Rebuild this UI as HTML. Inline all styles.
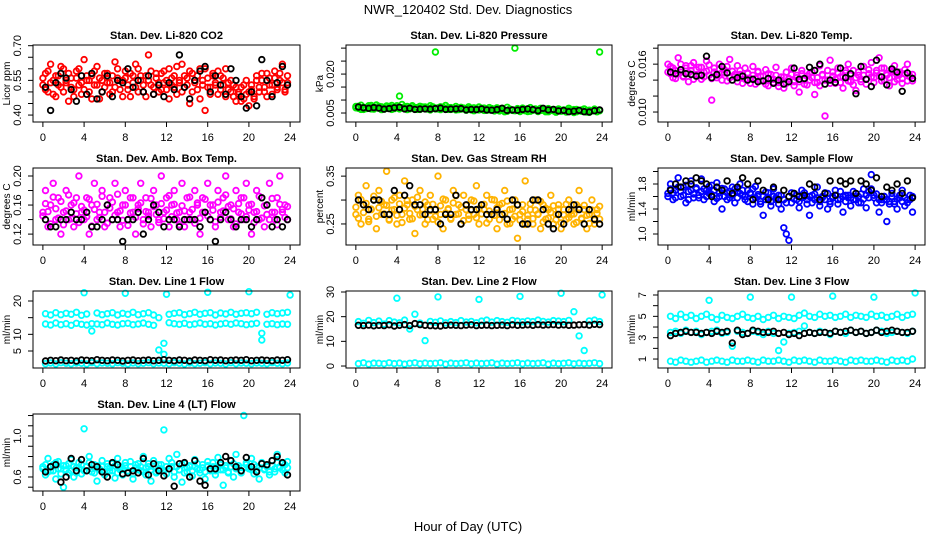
<!DOCTYPE html>
<html><head><meta charset="utf-8"><title>NWR_120402 Std. Dev. Diagnostics</title>
<style>
html,body{margin:0;padding:0;background:#fff;}
svg{display:block;font-family:"Liberation Sans",sans-serif;}
</style></head>
<body>
<svg id="chart" width="936" height="540" viewBox="0 0 936 540" xmlns="http://www.w3.org/2000/svg">
<rect x="0" y="0" width="936" height="540" fill="#fff"/>
<text x="468" y="14" font-size="13" text-anchor="middle">NWR_120402  Std. Dev. Diagnostics</text>
<text x="468" y="531" font-size="13" text-anchor="middle">Hour of Day (UTC)</text>
</svg>
<script>
const hA=[0,.25,.5,.75,1,1.25,1.5,1.75,2,2.25,2.5,2.75,3,3.25,3.5,3.75,4,4.25,4.5,4.75,5,5.25,5.5,5.75,6,6.25,6.5,6.75,7,7.25,7.5,7.75,8,8.25,8.5,8.75,9,9.25,9.5,9.75,10,10.25,10.5,10.75,11,11.25,11.5,11.75,12,12.25,12.5,12.75,13,13.25,13.5,13.75,14,14.25,14.5,14.75,15,15.25,15.5,15.75,16,16.25,16.5,16.75,17,17.25,17.5,17.75,18,18.25,18.5,18.75,19,19.25,19.5,19.75,20,20.25,20.5,20.75,21,21.25,21.5,21.75,22,22.25,22.5,22.75,23,23.25,23.5,23.75];
const hB=[.25,.75,1.25,1.75,2.25,2.75,3.25,3.75,4.25,4.75,5.25,5.75,6.25,6.75,7.25,7.75,8.25,8.75,9.25,9.75,10.25,10.75,11.25,11.75,12.25,12.75,13.25,13.75,14.25,14.75,15.25,15.75,16.25,16.75,17.25,17.75,18.25,18.75,19.25,19.75,20.25,20.75,21.25,21.75,22.25,22.75,23.25,23.75];
const xTicks=[0,4,8,12,16,20,24];
const outHours=[4,8,12,16,20,24];

const co2=[0.53,0.58,0.50,0.62,0.55,0.48,0.57,0.52,0.60,0.54,0.46,0.56,0.51,0.59,0.53,0.49,0.64,0.55,0.50,0.57,0.53,0.61,0.47,0.55,0.52,0.58,0.54,0.50,0.63,0.56,0.51,0.55,0.59,0.53,0.48,0.57,0.52,0.60,0.55,0.50,0.57,0.66,0.53,0.49,0.58,0.54,0.51,0.59,0.55,0.47,0.56,0.52,0.61,0.54,0.50,0.57,0.53,0.45,0.58,0.55,0.51,0.60,0.53,0.42,0.56,0.52,0.58,0.54,0.49,0.57,0.53,0.60,0.51,0.55,0.48,0.52,0.50,0.46,0.53,0.49,0.44,0.51,0.47,0.55,0.50,0.58,0.52,0.48,0.56,0.53,0.59,0.51,0.55,0.62,0.50,0.54];
const co2B=[0.56,0.51,0.59,0.54,0.49,0.57,0.53,0.61,0.50,0.55,0.58,0.52,0.48,0.56,0.60,0.54,0.51,0.57,0.55,0.47,0.59,0.53,0.56,0.50,0.58,0.54,0.49,0.57,0.52,0.60,0.55,0.48,0.56,0.51,0.58,0.54,0.62,0.50,0.57,0.53,0.48,0.55,0.59,0.52,0.56,0.50,0.58,0.54,0.51,0.60,0.53,0.57,0.49,0.55,0.62,0.52,0.56,0.59,0.50,0.54,0.57,0.47,0.55,0.60,0.52,0.49,0.57,0.53,0.59,0.51,0.56,0.48,0.54,0.50,0.53,0.46,0.49,0.52,0.47,0.55,0.50,0.53,0.48,0.57,0.52,0.55,0.50,0.58,0.53,0.49,0.56,0.52,0.58,0.54,0.51,0.57];
const co2Blk=[0.52,0.42,0.54,0.58,0.56,0.51,0.46,0.57,0.49,0.58,0.47,0.50,0.57,0.48,0.55,0.54,0.60,0.52,0.55,0.50,0.57,0.49,0.53,0.48,0.54,0.51,0.66,0.52,0.47,0.55,0.59,0.61,0.50,0.57,0.53,0.49,0.60,0.55,0.48,0.43,0.50,0.44,0.64,0.55,0.48,0.54,0.61,0.53];
const pres=[0.0075,0.0068,0.0080,0.0064,0.0071,0.0078,0.0066,0.0073,0.0081,0.0069,0.0074,0.0065,0.0077,0.0070,0.0079,0.0067,0.0072,0.0115,0.0083,0.0068,0.0075,0.0066,0.0078,0.0071,0.0064,0.0076,0.0069,0.0073,0.0065,0.0078,0.0070,0.0285,0.0066,0.0074,0.0068,0.0079,0.0064,0.0071,0.0067,0.0075,0.0063,0.0072,0.0069,0.0066,0.0074,0.0062,0.0070,0.0067,0.0073,0.0064,0.0069,0.0061,0.0071,0.0066,0.0058,0.0070,0.0063,0.0068,0.0055,0.0072,0.0064,0.0060,0.0300,0.0067,0.0059,0.0069,0.0063,0.0056,0.0071,0.0062,0.0066,0.0058,0.0068,0.0061,0.0055,0.0067,0.0060,0.0064,0.0053,0.0066,0.0059,0.0062,0.0056,0.0068,0.0058,0.0052,0.0064,0.0060,0.0057,0.0066,0.0054,0.0061,0.0058,0.0065,0.0056,0.0285];
const presB=[0.0070,0.0076,0.0064,0.0072,0.0067,0.0074,0.0079,0.0065,0.0070,0.0076,0.0063,0.0071,0.0068,0.0075,0.0064,0.0072,0.0078,0.0066,0.0070,0.0074,0.0063,0.0069,0.0075,0.0066,0.0071,0.0064,0.0073,0.0067,0.0070,0.0062,0.0074,0.0066,0.0070,0.0063,0.0072,0.0067,0.0071,0.0064,0.0069,0.0062,0.0070,0.0065,0.0068,0.0061,0.0067,0.0064,0.0059,0.0066,0.0062,0.0068,0.0060,0.0065,0.0062,0.0067,0.0060,0.0064,0.0058,0.0066,0.0061,0.0057,0.0065,0.0062,0.0059,0.0064,0.0056,0.0062,0.0059,0.0066,0.0057,0.0061,0.0063,0.0056,0.0060,0.0064,0.0058,0.0055,0.0062,0.0059,0.0056,0.0063,0.0057,0.0060,0.0054,0.0061,0.0058,0.0063,0.0055,0.0059,0.0062,0.0056,0.0060,0.0053,0.0058,0.0061,0.0055,0.0059];
const presBlk=[0.0073,0.0070,0.0068,0.0071,0.0069,0.0065,0.0067,0.0070,0.0072,0.0066,0.0068,0.0064,0.0065,0.0066,0.0065,0.0067,0.0069,0.0064,0.0065,0.0066,0.0067,0.0062,0.0064,0.0063,0.0066,0.0062,0.0061,0.0063,0.0068,0.0060,0.0062,0.0061,0.0064,0.0066,0.0063,0.0059,0.0068,0.0062,0.0064,0.0058,0.0060,0.0055,0.0057,0.0060,0.0055,0.0054,0.0059,0.0062];
const tempLi=[0.0160,0.0148,0.0155,0.0142,0.0168,0.0150,0.0145,0.0158,0.0138,0.0152,0.0162,0.0147,0.0156,0.0141,0.0150,0.0164,0.0146,0.0115,0.0155,0.0143,0.0160,0.0149,0.0153,0.0139,0.0166,0.0151,0.0144,0.0158,0.0147,0.0136,0.0155,0.0148,0.0142,0.0157,0.0135,0.0150,0.0145,0.0139,0.0153,0.0133,0.0147,0.0141,0.0156,0.0137,0.0144,0.0130,0.0150,0.0142,0.0155,0.0138,0.0146,0.0125,0.0152,0.0140,0.0134,0.0148,0.0143,0.0122,0.0137,0.0158,0.0146,0.0095,0.0140,0.0165,0.0150,0.0136,0.0155,0.0144,0.0130,0.0149,0.0160,0.0138,0.0152,0.0127,0.0146,0.0141,0.0157,0.0135,0.0148,0.0162,0.0143,0.0152,0.0168,0.0139,0.0155,0.0146,0.0133,0.0150,0.0158,0.0141,0.0147,0.0136,0.0153,0.0160,0.0144,0.0139];
const tempLiB=[0.0150,0.0157,0.0143,0.0152,0.0148,0.0160,0.0144,0.0155,0.0149,0.0158,0.0141,0.0153,0.0147,0.0156,0.0144,0.0151,0.0159,0.0142,0.0150,0.0146,0.0154,0.0140,0.0149,0.0157,0.0143,0.0151,0.0147,0.0138,0.0152,0.0145,0.0141,0.0149,0.0136,0.0146,0.0142,0.0151,0.0139,0.0145,0.0135,0.0148,0.0141,0.0137,0.0146,0.0132,0.0140,0.0144,0.0136,0.0141,0.0147,0.0133,0.0143,0.0138,0.0148,0.0135,0.0145,0.0140,0.0150,0.0137,0.0143,0.0133,0.0147,0.0140,0.0152,0.0136,0.0145,0.0141,0.0149,0.0137,0.0144,0.0152,0.0139,0.0146,0.0134,0.0143,0.0150,0.0138,0.0146,0.0141,0.0153,0.0144,0.0137,0.0149,0.0145,0.0155,0.0140,0.0148,0.0143,0.0152,0.0138,0.0146,0.0150,0.0142,0.0148,0.0139,0.0145,0.0147];
const tempLiBlk=[0.0150,0.0148,0.0153,0.0148,0.0147,0.0145,0.0146,0.0170,0.0143,0.0147,0.0157,0.0149,0.0140,0.0143,0.0145,0.0140,0.0141,0.0138,0.0139,0.0142,0.0136,0.0140,0.0135,0.0138,0.0155,0.0141,0.0142,0.0156,0.0152,0.0160,0.0135,0.0140,0.0137,0.0155,0.0143,0.0148,0.0123,0.0157,0.0141,0.0132,0.0165,0.0144,0.0134,0.0154,0.0150,0.0126,0.0149,0.0142];
const boxT=[0.15,0.18,0.13,0.16,0.19,0.14,0.17,0.12,0.15,0.18,0.14,0.16,0.13,0.17,0.20,0.15,0.14,0.17,0.12,0.16,0.19,0.14,0.15,0.18,0.13,0.16,0.17,0.14,0.19,0.15,0.13,0.16,0.18,0.14,0.17,0.15,0.12,0.16,0.19,0.14,0.17,0.15,0.13,0.18,0.16,0.14,0.20,0.15,0.17,0.13,0.16,0.18,0.14,0.15,0.19,0.13,0.17,0.15,0.14,0.18,0.16,0.12,0.17,0.15,0.19,0.14,0.16,0.13,0.18,0.15,0.17,0.20,0.14,0.16,0.13,0.18,0.15,0.17,0.14,0.19,0.16,0.12,0.15,0.18,0.14,0.17,0.13,0.16,0.19,0.15,0.14,0.17,0.20,0.15,0.16,0.14];
const boxTB=[0.145,0.162,0.151,0.134,0.171,0.155,0.142,0.165,0.133,0.152,0.174,0.141,0.163,0.148,0.136,0.158,0.153,0.144,0.168,0.131,0.154,0.161,0.143,0.172,0.150,0.135,0.156,0.164,0.146,0.175,0.152,0.139,0.160,0.132,0.149,0.170,0.143,0.155,0.163,0.134,0.151,0.145,0.169,0.158,0.147,0.136,0.162,0.141,0.153,0.173,0.144,0.161,0.149,0.133,0.159,0.152,0.140,0.171,0.154,0.135,0.163,0.142,0.150,0.168,0.145,0.160,0.153,0.137,0.164,0.143,0.152,0.174,0.158,0.141,0.155,0.134,0.162,0.148,0.170,0.144,0.153,0.161,0.136,0.151,0.172,0.142,0.159,0.147,0.140,0.169,0.150,0.133,0.161,0.154,0.143,0.158];
const boxTBlk=[0.14,0.13,0.13,0.14,0.14,0.15,0.14,0.14,0.15,0.13,0.13,0.14,0.16,0.14,0.14,0.11,0.14,0.14,0.15,0.12,0.14,0.16,0.15,0.13,0.14,0.14,0.13,0.14,0.14,0.14,0.13,0.15,0.14,0.11,0.14,0.15,0.14,0.13,0.14,0.14,0.13,0.14,0.17,0.16,0.13,0.14,0.13,0.14];
const rh=[0.27,0.31,0.25,0.29,0.33,0.26,0.28,0.30,0.24,0.32,0.27,0.29,0.36,0.26,0.30,0.28,0.25,0.31,0.27,0.34,0.29,0.26,0.30,0.23,0.28,0.32,0.27,0.25,0.29,0.31,0.26,0.28,0.35,0.27,0.24,0.30,0.28,0.26,0.32,0.27,0.29,0.25,0.31,0.28,0.26,0.30,0.27,0.33,0.25,0.29,0.28,0.31,0.26,0.27,0.30,0.24,0.29,0.27,0.32,0.25,0.28,0.26,0.30,0.22,0.27,0.29,0.34,0.26,0.28,0.25,0.30,0.27,0.24,0.29,0.26,0.28,0.31,0.25,0.27,0.29,0.24,0.28,0.26,0.30,0.27,0.25,0.29,0.32,0.26,0.28,0.24,0.27,0.30,0.25,0.28,0.26];
const rhB=[0.285,0.262,0.301,0.274,0.293,0.255,0.281,0.308,0.266,0.284,0.297,0.271,0.289,0.258,0.279,0.305,0.268,0.292,0.253,0.283,0.299,0.272,0.261,0.287,0.306,0.269,0.281,0.296,0.259,0.278,0.291,0.266,0.254,0.288,0.302,0.273,0.282,0.262,0.294,0.309,0.271,0.285,0.257,0.289,0.268,0.279,0.298,0.263,0.282,0.271,0.291,0.252,0.277,0.301,0.268,0.284,0.259,0.293,0.272,0.298,0.251,0.281,0.266,0.289,0.258,0.276,0.249,0.268,0.292,0.261,0.279,0.271,0.297,0.254,0.283,0.262,0.274,0.288,0.259,0.281,0.252,0.269,0.291,0.263,0.278,0.271,0.253,0.284,0.262,0.289,0.268,0.251,0.279,0.258,0.272,0.287];
const rhBlk=[0.30,0.29,0.28,0.30,0.30,0.27,0.27,0.32,0.28,0.31,0.33,0.29,0.29,0.27,0.28,0.28,0.25,0.27,0.27,0.31,0.25,0.29,0.28,0.28,0.29,0.27,0.27,0.28,0.27,0.26,0.30,0.29,0.25,0.25,0.30,0.30,0.28,0.25,0.24,0.27,0.25,0.28,0.29,0.28,0.25,0.28,0.26,0.25];
const flow=[1.65,1.80,1.55,1.70,1.90,1.60,1.75,1.50,1.68,1.85,1.58,1.72,1.62,1.88,1.55,1.70,1.65,1.78,1.52,1.82,1.60,1.40,1.72,1.66,1.58,1.75,1.50,1.68,1.80,1.62,1.55,1.70,1.64,1.48,1.76,1.60,1.52,1.30,1.67,1.58,1.45,1.72,1.55,1.62,1.40,1.10,1.00,0.90,1.50,1.65,1.55,1.42,1.70,1.60,1.48,1.30,1.62,1.55,1.75,1.45,1.58,1.66,1.40,1.52,1.60,1.70,1.48,1.56,1.35,1.62,1.58,1.45,1.68,1.55,1.50,1.64,1.72,1.42,1.58,1.95,1.62,1.50,1.35,1.55,1.60,1.20,1.48,1.65,1.52,1.40,1.58,1.70,1.45,1.55,1.62,1.35];
const flowB=[1.60,1.72,1.66,1.58,1.75,1.68,1.62,1.78,1.55,1.70,1.64,1.74,1.58,1.68,1.72,1.60,1.76,1.63,1.70,1.57,1.66,1.73,1.60,1.55,1.68,1.62,1.72,1.58,1.65,1.70,1.60,1.52,1.66,1.72,1.58,1.63,1.48,1.60,1.55,1.66,1.52,1.60,1.58,1.48,1.62,1.55,1.50,1.60,1.66,1.56,1.62,1.52,1.58,1.66,1.55,1.60,1.50,1.64,1.58,1.52,1.60,1.55,1.65,1.48,1.58,1.62,1.55,1.68,1.60,1.52,1.62,1.58,1.55,1.65,1.60,1.50,1.56,1.62,1.68,1.72,1.58,1.64,1.55,1.50,1.60,1.55,1.52,1.60,1.48,1.56,1.62,1.52,1.58,1.50,1.55,1.60];
const flowBlk=[1.70,1.80,1.75,1.85,1.80,1.90,1.85,1.80,1.60,1.75,1.70,1.85,1.65,1.75,1.90,1.80,1.55,1.85,1.70,1.55,1.75,1.55,1.70,1.60,1.65,1.60,1.62,1.80,1.75,1.55,1.65,1.85,1.62,1.85,1.80,1.85,1.65,1.85,1.80,1.70,1.90,1.60,1.75,1.70,1.80,1.65,1.85,1.58];
const l1Up=[16.2,15.8,16.5,15.9,16.3,16.0,16.6,15.7,16.1,11.0,16.4,15.9,16.2,16.5,15.8,16.3,16.0,16.6,15.9,16.2,16.5,15.8,15.0,7.3,16.0,16.3,16.5,15.9,16.2,16.6,16.0,16.3,16.5,15.8,16.4,16.1,16.6,16.0,16.3,16.5,16.2,16.6,10.3,16.0,16.5,16.2,16.4,16.6];
const l1Mid=[13.1,12.8,13.4,12.9,13.2,12.7,13.3,13.0,12.8,13.2,13.1,12.9,13.4,13.0,12.8,13.2,13.3,12.9,13.1,13.4,13.0,12.7,5.3,4.0,13.5,13.2,13.0,13.3,12.9,13.1,13.4,13.0,13.2,12.8,13.1,13.3,13.0,13.4,13.2,12.9,13.1,13.3,8.3,13.0,13.2,12.9,13.1,13.0];
const l1Low=[1.2,1.4,1.1,1.5,1.3,1.2,1.4,1.3,1.1,1.5,1.2,1.4,1.3,1.2,1.5,1.3,1.1,1.4,1.2,1.3,1.5,1.2,1.4,1.3,1.2,1.5,1.3,1.1,1.4,1.2,1.3,1.5,1.2,1.4,1.3,1.1,1.5,1.2,1.4,1.3,1.2,1.4,1.3,1.2,1.5,1.3,1.2,1.4];
const l1Out=[22.5,22.3,22.0,22.6,22.8,21.8];
const l1Blk=[2.0,2.2,2.1,2.3,2.1,2.2,2.0,2.3,2.2,2.1,2.4,2.2,2.1,2.3,2.2,2.0,2.2,2.3,2.1,2.2,2.3,2.1,2.2,2.4,2.2,2.1,2.3,2.2,2.0,2.3,2.2,2.1,2.4,2.2,2.3,2.1,2.2,2.3,2.2,2.4,2.1,2.2,2.3,2.2,2.1,2.3,2.2,2.4];
const l2Up=[18.0,17.3,18.5,17.6,18.2,17.0,18.4,17.8,17.5,18.6,15.0,21.0,17.4,10.3,18.1,17.7,18.3,17.5,18.0,17.6,18.4,17.8,18.1,17.5,18.2,18.6,17.8,18.4,18.0,17.7,18.5,18.2,17.9,18.3,18.0,18.6,18.1,17.8,18.4,18.2,18.0,18.5,22.0,12.2,6.3,18.3,18.6,18.0];
const l2Low=[1.0,1.3,0.8,1.2,1.1,0.9,1.3,1.0,1.2,0.8,1.1,1.3,0.9,1.2,1.0,1.1,1.3,0.8,1.2,1.0,1.1,1.3,0.9,1.2,1.0,1.1,1.3,0.8,1.2,1.0,1.1,1.3,0.9,1.2,1.0,1.1,1.3,0.8,1.2,1.0,1.1,1.3,0.9,1.2,1.0,1.1,1.3,1.0];
const l2Out=[27.5,28.0,27.0,28.2,29.5,28.8];
const l2Blk=[16.5,16.4,16.6,16.3,16.5,16.4,16.7,16.2,16.5,16.8,16.4,17.2,16.8,16.5,16.4,16.3,16.2,16.5,16.6,16.5,16.4,16.6,16.7,16.4,16.5,16.6,16.4,16.5,16.6,16.4,16.7,16.5,16.6,16.7,16.5,16.8,16.6,16.7,16.8,16.6,16.7,16.5,16.6,16.7,16.8,16.6,16.9,16.8];
const l3Up=[5.0,4.8,5.2,4.9,5.1,4.8,5.0,5.2,4.9,4.7,5.1,4.9,4.8,5.0,5.2,4.9,4.8,5.0,4.7,4.9,5.1,4.8,5.0,4.9,4.8,5.1,5.3,5.0,4.9,5.2,5.0,5.1,4.9,5.0,5.2,4.9,5.1,5.0,4.9,5.2,5.0,5.1,4.9,5.0,5.2,4.9,5.1,5.2];
const l3Mid=[3.5,3.6,3.4,3.7,3.5,3.6,3.3,3.5,3.6,3.7,3.4,3.5,2.2,3.6,3.5,3.4,3.6,3.5,3.3,3.6,3.4,1.8,2.6,3.4,3.5,3.6,4.1,3.5,3.4,3.6,3.5,3.3,3.6,3.5,3.4,3.7,3.5,3.6,3.4,3.5,3.7,3.6,3.4,3.5,3.6,3.5,3.4,3.6];
const l3Low=[0.8,0.7,0.9,0.8,0.7,0.8,0.9,0.7,0.8,0.9,0.8,0.7,0.9,0.8,0.8,0.9,0.8,0.7,0.9,0.8,0.8,0.9,0.8,0.7,0.9,0.8,0.9,0.8,0.7,0.9,0.8,0.8,0.9,0.8,0.7,0.9,0.8,0.9,0.8,0.8,0.9,0.8,0.7,0.9,0.8,0.9,0.8,1.0];
const l3Out=[6.5,6.8,6.8,6.9,6.8,7.2];
const l3Blk=[3.2,3.4,3.5,3.6,3.5,3.5,3.4,3.5,3.4,3.6,3.5,3.6,2.5,3.7,3.3,3.4,3.7,3.6,3.5,3.5,3.6,3.4,3.5,3.3,3.4,3.2,3.4,3.5,3.4,3.5,3.5,3.4,3.6,3.5,3.6,3.7,3.5,3.6,3.4,3.5,3.7,3.5,3.6,3.7,3.6,3.5,3.5,3.6];
const l4=[0.70,0.62,0.78,0.66,0.72,0.58,0.75,0.68,0.50,0.71,0.64,0.77,0.60,0.69,0.74,0.63,1.07,0.70,0.80,0.65,0.72,0.56,0.68,0.76,0.62,0.70,0.66,0.73,0.59,0.78,0.67,0.62,0.71,0.64,0.75,0.58,0.69,0.73,0.66,0.80,0.62,0.70,0.56,0.76,0.65,0.72,0.68,1.06,0.63,0.78,0.70,0.60,0.82,0.67,0.55,0.73,0.65,0.70,0.61,0.77,0.68,0.64,0.72,0.58,0.75,0.66,0.70,0.62,0.79,0.67,0.52,0.71,0.65,0.76,0.60,0.82,0.69,0.64,1.20,0.72,0.68,0.78,0.63,0.70,0.58,0.74,0.67,0.71,0.62,0.76,0.65,0.82,0.69,0.73,0.64,0.75];
const l4B=[0.68,0.72,0.65,0.70,0.66,0.74,0.68,0.63,0.71,0.67,0.73,0.66,0.70,0.64,0.69,0.72,0.66,0.70,0.74,0.68,0.64,0.71,0.67,0.70,0.65,0.73,0.69,0.66,0.71,0.64,0.70,0.68,0.74,0.66,0.70,0.63,0.72,0.67,0.70,0.65,0.69,0.73,0.67,0.70,0.64,0.68,0.72,0.66,0.70,0.68,0.74,0.65,0.70,0.67,0.72,0.64,0.69,0.71,0.66,0.70,0.73,0.67,0.69,0.65,0.71,0.68,0.74,0.66,0.70,0.72,0.67,0.69,0.64,0.70,0.73,0.68,0.71,0.66,0.69,0.74,0.70,0.67,0.72,0.66,0.69,0.73,0.68,0.70,0.65,0.71,0.68,0.74,0.70,0.67,0.72,0.69];
const l4Blk=[0.65,0.70,0.72,0.55,0.60,0.78,0.66,0.77,0.66,0.72,0.70,0.65,0.60,0.74,0.72,0.63,0.64,0.66,0.64,0.78,0.62,0.73,0.66,0.61,0.68,0.51,0.73,0.74,0.60,0.76,0.56,0.52,0.68,0.68,0.74,0.80,0.76,0.70,0.66,0.79,0.70,0.65,0.73,0.72,0.76,0.80,0.74,0.62];

const NS="http://www.w3.org/2000/svg";
const svg=document.getElementById('chart');
const colL=[33,346,658], colR=[300,612,925];
const rowT=[45,168,291,414], rowB=[122,245,368,491];

function mk(tag,attrs,parent){const e=document.createElementNS(NS,tag);for(const k in attrs)e.setAttribute(k,attrs[k]);parent.appendChild(e);return e;}

function panel(id,col,row,title,ylab,ylo,yhi,ticks,labels,series){
  const L=colL[col],R=colR[col],T=rowT[row],B=rowB[row];
  const g=mk('g',{},svg);
  
  
  const xs=h=>L+(h+0.96)/25.92*(R-L);
  const ys=v=>B-(v-ylo)/(yhi-ylo)*(B-T);
  const tt=mk('text',{x:(L+R)/2,y:T-6,'font-size':11,'font-weight':'bold','text-anchor':'middle'},g);
  tt.textContent=title;
  
  
  const pts=mk('g',{fill:'none','stroke-width':1.8},g);
  
  
  series.forEach(s=>{
    const n=Math.min(s.h.length,s.v.length);
    for(let i=0;i<n;i++){
      const y=ys(s.v[i]); if(y<T-2||y>B+2) continue;
      const c=mk('circle',{cx:xs(s.h[i]).toFixed(1),cy:y.toFixed(1),r:2.8,stroke:s.c},pts);
      
      
    }
  });
  const box=mk('rect',{x:L,y:T,width:R-L,height:B-T,fill:'none',stroke:'#000','stroke-width':1},g);
  
  
  const xa=mk('g',{},g);
  
  
  mk('line',{x1:xs(xTicks[0]),x2:xs(xTicks[xTicks.length-1]),y1:B,y2:B,stroke:'#000'},xa);
  xTicks.forEach(t=>{
    mk('line',{x1:xs(t),x2:xs(t),y1:B,y2:B+5,stroke:'#000'},xa);
    const tx=mk('text',{x:xs(t),y:B+19,'font-size':11,'text-anchor':'middle'},xa);
    tx.textContent=t;
  });
  const ya=mk('g',{},g);
  
  
  mk('line',{x1:L,x2:L,y1:ys(ticks[0]),y2:ys(ticks[ticks.length-1]),stroke:'#000'},ya);
  ticks.forEach(t=>{
    mk('line',{x1:L-5,x2:L,y1:ys(t),y2:ys(t),stroke:'#000'},ya);
  });
  labels.forEach(t=>{
    const x=L-12,y=ys(t);
    const tx=mk('text',{x:x,y:y,'font-size':11,'text-anchor':'middle',transform:`rotate(-90 ${x} ${y})`},ya);
    tx.textContent=t.l;
  });
  const yx=L-23;
  const yl=mk('text',{x:yx,y:(T+B)/2,'font-size':10,'text-anchor':'middle',transform:`rotate(-90 ${yx} ${(T+B)/2})`},g);
  yl.textContent=ylab;
  
  
}
function lab(vals,txt){return vals.map((v,i)=>{const n=new Number(v);n.l=txt[i];return n;});}
const RED='#ff0000',GRN='#00ee00',MAG='#ff00ff',ORG='#ffb300',BLU='#0000ff',CYA='#00ffff',BLK='#000000';

panel('co2',0,0,'Stan. Dev. Li-820 CO2','Licor ppm',0.37,0.703,[0.40,0.45,0.50,0.55,0.60,0.65,0.70],lab([0.40,0.55,0.70],['0.40','0.55','0.70']),
  [{h:hA,v:co2,c:RED},{h:hA,v:co2B,c:RED},{h:hB,v:co2Blk,c:BLK}]);
panel('pressure',1,0,'Stan. Dev. Li-820 Pressure','kPa',0.00154,0.0312,[0.005,0.010,0.015,0.020,0.025,0.030],lab([0.005,0.020],['0.005','0.020']),
  [{h:hA,v:pres,c:GRN},{h:hA,v:presB,c:GRN},{h:hB,v:presBlk,c:BLK}]);
panel('li820-temp',2,0,'Stan. Dev. Li-820 Temp.','degrees C',0.00875,0.0184,[0.010,0.012,0.014,0.016,0.018],lab([0.010,0.016],['0.010','0.016']),
  [{h:hA,v:tempLi,c:MAG},{h:hA,v:tempLiB,c:MAG},{h:hB,v:tempLiBlk,c:BLK}]);
panel('box-temp',0,1,'Stan. Dev. Amb. Box Temp.','degrees C',0.105,0.211,[0.12,0.14,0.16,0.18,0.20],lab([0.12,0.16,0.20],['0.12','0.16','0.20']),
  [{h:hA,v:boxT,c:MAG},{h:hA,v:boxTB,c:MAG},{h:hB,v:boxTBlk,c:BLK}]);
panel('gas-rh',1,1,'Stan. Dev. Gas Stream RH','percent',0.206,0.367,[0.25,0.30,0.35],lab([0.25,0.35],['0.25','0.35']),
  [{h:hA,v:rh,c:ORG},{h:hA,v:rhB,c:ORG},{h:hB,v:rhBlk,c:BLK}]);
panel('sample-flow',2,1,'Stan. Dev. Sample Flow','ml/min',0.824,2.056,[1.0,1.2,1.4,1.6,1.8,2.0],lab([1.0,1.4,1.8],['1.0','1.4','1.8']),
  [{h:hA,v:flow,c:BLU},{h:hA,v:flowB,c:BLU},{h:hB,v:flowBlk,c:BLK}]);
panel('line1-flow',0,2,'Stan. Dev. Line 1 Flow','ml/min',-0.1,23,[5,10,15,20],lab([5,10,20],['5','10','20']),
  [{h:hB,v:l1Up,c:CYA},{h:hB,v:l1Mid,c:CYA},{h:hB,v:l1Low,c:CYA},{h:outHours,v:l1Out,c:CYA},{h:hB,v:l1Blk,c:BLK}]);
panel('line2-flow',1,2,'Stan. Dev. Line 2 Flow','ml/min',-0.8,30.4,[0,10,20,30],lab([0,10,20,30],['0','10','20','30']),
  [{h:hB,v:l2Up,c:CYA},{h:hB,v:l2Low,c:CYA},{h:outHours,v:l2Out,c:CYA},{h:hB,v:l2Blk,c:BLK}]);
panel('line3-flow',2,2,'Stan. Dev. Line 3 Flow','ml/min',0.16,7.375,[1,2,3,4,5,6,7],lab([1,3,5,7],['1','3','5','7']),
  [{h:hB,v:l3Up,c:CYA},{h:hB,v:l3Mid,c:CYA},{h:hB,v:l3Low,c:CYA},{h:outHours,v:l3Out,c:CYA},{h:hB,v:l3Blk,c:BLK}]);
panel('line4-flow',0,3,'Stan. Dev. Line 4 (LT) Flow','ml/min',0.463,1.215,[0.5,0.6,0.7,0.8,0.9,1.0,1.1,1.2],lab([0.6,1.0],['0.6','1.0']),
  [{h:hA,v:l4,c:CYA},{h:hA,v:l4B,c:CYA},{h:hB,v:l4Blk,c:BLK}]);
</script>
</body></html>
